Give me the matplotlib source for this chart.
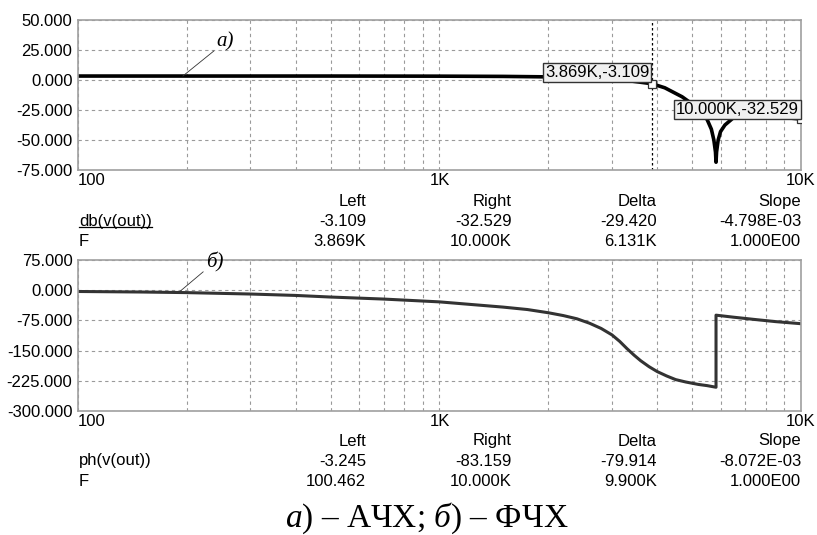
import numpy as np
import matplotlib
matplotlib.use('Agg')
import matplotlib.pyplot as plt
from matplotlib.ticker import LogLocator, NullFormatter
from matplotlib.lines import Line2D

# magnitude curve, db(v(out))
freq_db = [100, 300, 500, 1000, 1500, 2000, 2500, 3000, 3400, 3869, 4200, 4690,
           5000, 5300, 5500, 5650, 5740, 5800, 5820, 5840, 5900, 5990, 6160,
           6500, 7000, 8000, 9000, 10000]
mag_db = [3.3, 3.3, 3.3, 3.2, 3.0, 2.6, 1.8, 0.6, -0.9, -3.109, -6.5, -14.0,
          -20.0, -27.0, -33.0, -41.0, -50.0, -60.0, -68.5, -60.0, -50.0, -43.0,
          -37.5, -31.5, -29.5, -30.0, -31.3, -32.529]

# phase curve, ph(v(out))
freq_ph = [100, 150, 200, 300, 400, 500, 700, 1000, 1500, 1750, 2000, 2200,
           2400, 2600, 2800, 3000, 3150, 3300, 3450, 3600, 3800, 4000, 4250,
           4500, 4800, 5200, 5500, 5820, 5820, 6500, 7500, 8500, 10000]
phase = [-3.2, -4.5, -6.0, -9.5, -13.0, -17.0, -22.0, -29.0, -42.0, -48.0,
         -56.0, -63.0, -71.0, -82.0, -95.0, -111.0, -127.0, -145.0, -161.0,
         -175.0, -190.0, -202.0, -213.0, -222.0, -228.0, -234.0, -237.0,
         -241.0, -62.0, -67.0, -73.0, -78.0, -83.2]

x_ticks = [100, 1000, 10000]
x_labels = ['100', '1K', '10K']
mag_ticks = [50, 25, 0, -25, -50, -75]
ph_ticks = [75, 0, -75, -150, -225, -300]

cols = ['Left', 'Right', 'Delta', 'Slope']
mag_row = ['-3.109', '-32.529', '-29.420', '-4.798E-03']
mag_f_row = ['3.869K', '10.000K', '6.131K', '1.000E00']
ph_row = ['-3.245', '-83.159', '-79.914', '-8.072E-03']
ph_f_row = ['100.462', '10.000K', '9.900K', '1.000E00']

cursor_f = [3869, 10000]
cursor_db = [-3.109, -32.529]
cursor_text = ['3.869K,-3.109', '10.000K,-32.529']

W, H = 817, 535
SANS = 'Liberation Sans'
SERIF = 'Liberation Serif'
FS = 12

fig = plt.figure(figsize=(W / 100, H / 100), dpi=100)


def box(l, t, r, b):
    return [l / W, 1 - b / H, (r - l) / W, (b - t) / H]


def px(x, y):
    return x / W, 1 - y / H


def style(ax, yticks):
    ax.set_xscale('log')
    ax.set_xlim(100, 10000)
    ax.set_ylim(yticks[-1], yticks[0])
    ax.set_yticks(yticks)
    ax.set_yticklabels([f'{v:.3f}' for v in yticks], fontfamily=SANS, fontsize=FS)
    ax.set_xticks(x_ticks)
    ax.set_xticklabels(x_labels, fontfamily=SANS, fontsize=FS)
    ax.get_xticklabels()[0].set_ha('left')
    ax.xaxis.set_minor_locator(LogLocator(base=10, subs=range(2, 10)))
    ax.xaxis.set_minor_formatter(NullFormatter())
    ax.tick_params(which='both', length=0)
    ax.tick_params(axis='x', pad=2)
    ax.tick_params(axis='y', pad=4)
    ax.grid(which='both', color='#9a9a9a', ls=(0, (3, 3)), lw=0.8)
    for s in ax.spines.values():
        s.set_color('#a0a0a0')
        s.set_linewidth(1.2)


ax1 = fig.add_axes(box(78, 20, 801, 170))
ax2 = fig.add_axes(box(78, 260, 801, 411))
style(ax1, mag_ticks)
style(ax2, ph_ticks)

ax1.plot(freq_db, mag_db, color='black', lw=2.6, solid_joinstyle='round')
ax2.plot(freq_ph, phase, color='#333333', lw=2.2)

# cursor
ax1.axvline(cursor_f[0], color='black', ls=(0, (2, 2)), lw=0.9)
ax1.plot(cursor_f, cursor_db, ls='none', marker='s', ms=6, mfc='white',
         mec='#333333', mew=0.9, zorder=5)

bbox_kw = dict(boxstyle='square,pad=0.12', fc='#f0f0f0', ec='#333333', lw=1)
ax1.text(3860 / 1.015, 0.3, cursor_text[0], ha='right', va='bottom',
         fontfamily=SANS, fontsize=FS, bbox=bbox_kw, zorder=6)
ax1.text(9870, -31.0, cursor_text[1], ha='right', va='bottom',
         fontfamily=SANS, fontsize=FS, bbox=bbox_kw, zorder=6)

# curve labels
ax1.annotate('а)', xy=(195, 3.3), xytext=(242, 24), ha='left', va='bottom',
             fontfamily=SERIF, fontstyle='italic', fontsize=15,
             arrowprops=dict(arrowstyle='-', lw=0.6, color='#333333',
                             shrinkA=0, shrinkB=0))
ax2.annotate('б)', xy=(191, -3.7), xytext=(226, 45), ha='left', va='bottom',
             fontfamily=SERIF, fontstyle='italic', fontsize=15,
             arrowprops=dict(arrowstyle='-', lw=0.6, color='#333333',
                             shrinkA=0, shrinkB=0))

# cursor tables
col_x = [366, 512, 657, 801]


def table(y0, name, row, frow):
    for x, c, v, f in zip(col_x, cols, row, frow):
        fig.text(*px(x, y0), c, ha='right', va='center', fontfamily=SANS, fontsize=FS)
        fig.text(*px(x, y0 + 20), v, ha='right', va='center', fontfamily=SANS, fontsize=FS)
        fig.text(*px(x, y0 + 40), f, ha='right', va='center', fontfamily=SANS, fontsize=FS)
    t = fig.text(*px(79, y0 + 20), name, ha='left', va='center', fontfamily=SANS, fontsize=FS)
    fig.text(*px(79, y0 + 40), 'F', ha='left', va='center', fontfamily=SANS, fontsize=FS)
    return t


t_db = table(201, 'db(v(out))', mag_row, mag_f_row)
table(441, 'ph(v(out))', ph_row, ph_f_row)

# caption
plt.rcParams['mathtext.fontset'] = 'custom'
plt.rcParams['mathtext.rm'] = SERIF
plt.rcParams['mathtext.it'] = SERIF + ':italic'
fig.text(*px(427, 518), r'$\mathit{а}$) – АЧХ; $\mathit{б}$) – ФЧХ', ha='center',
         va='center', fontfamily=SERIF, fontsize=24)

# underline under db(v(out))
fig.canvas.draw()
bb = t_db.get_window_extent().transformed(fig.transFigure.inverted())
fig.add_artist(Line2D([bb.x0, bb.x1], [bb.y0 + 0.002, bb.y0 + 0.002],
                      transform=fig.transFigure, color='black', lw=0.9))

fig.savefig('out.png', dpi=100)
